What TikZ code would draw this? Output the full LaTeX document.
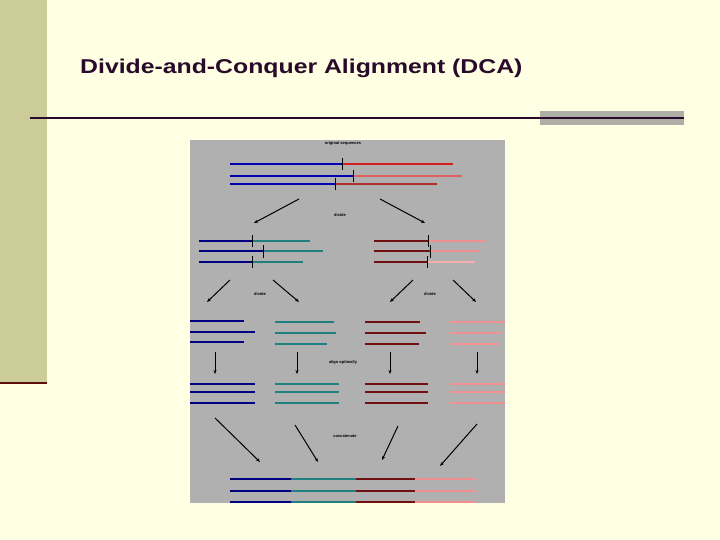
\documentclass[tikz,border=0pt]{standalone}
\usepackage{fontspec}
\setmainfont{Liberation Sans}
\usetikzlibrary{arrows.meta}
\definecolor{bg}{HTML}{FFFFE3}
\definecolor{olive}{HTML}{CCCC99}
\definecolor{panel}{HTML}{B0B0B0}
\definecolor{barc}{HTML}{AEADA6}
\definecolor{dline}{HTML}{2A0A2A}
\definecolor{cb}{HTML}{0000B0}
\definecolor{cdb}{HTML}{000080}
\definecolor{cr}{HTML}{D02020}
\definecolor{cr2}{HTML}{E06060}
\definecolor{cr3}{HTML}{B03030}
\definecolor{ct}{HTML}{208080}
\definecolor{cdr}{HTML}{701010}
\definecolor{cp}{HTML}{F09090}
\tikzset{seq/.style={line width=1.6pt},tk/.style={line width=1pt,black},
 arr/.style={line width=1pt,black,-{Stealth[length=4pt]}},
 lbl/.style={font=\bfseries\fontsize{4}{4}\selectfont,inner sep=0}}
\begin{document}
\begin{tikzpicture}[x=1pt,y=-1pt]
\useasboundingbox (0,0) rectangle (720,540);
\fill[bg] (0,0) rectangle (720,540);
\fill[olive] (0,0) rectangle (47,383);
\draw[line width=2.5pt,cdr!80!black] (0,383) -- (47,383);
\node[anchor=west,inner sep=0,font=\bfseries\fontsize{20}{24}\selectfont,text=dline] (title) at (80,68) {\scalebox{1.24}[1]{Divide-and-Conquer Alignment (DCA)}};
\fill[barc] (540,111) rectangle (684,125);
\draw[line width=1.2pt,dline] (30,118) -- (684,118);
\fill[panel] (190,140) rectangle (505,503);
\node[lbl] (t1) at (343,143) {original sequences};
% top
\draw[seq,cb] (230,164)--(342,164); \draw[seq,cr] (342,164)--(453,164);
\draw[seq,cb] (230,176)--(353,176); \draw[seq,cr2] (353,176)--(462,176);
\draw[seq,cb] (230,184)--(335,184); \draw[seq,cr3] (335,184)--(437,184);
\draw[tk] (342,158)--(342,170) (353,170)--(353,182) (335,178)--(335,190);
\coordinate (a1) at (299,199); \coordinate (a2) at (254,223);
\coordinate (a3) at (380,199); \coordinate (a4) at (425,223);
\draw[arr] (a1)--(a2); \draw[arr] (a3)--(a4);
\node[lbl] (t2) at (340,215) {divide};
% mid
\draw[seq,cdb] (199,241)--(252,241); \draw[seq,ct] (252,241)--(310,241);
\draw[seq,cdb] (199,251)--(263,251); \draw[seq,ct] (263,251)--(323,251);
\draw[seq,cdb] (199,262)--(252,262); \draw[seq,ct] (252,262)--(303,262);
\draw[tk] (252,235)--(252,247) (263,245)--(263,258) (252,256)--(252,268);
\draw[seq,cdr] (374,241)--(428,241); \draw[seq,cp] (428,241)--(485,241);
\draw[seq,cdr] (374,251)--(430,251); \draw[seq,cp] (430,251)--(480,251);
\draw[seq,cdr] (374,262)--(427,262); \draw[seq,cp!70!white] (427,262)--(475,262);
\draw[tk] (428,235)--(428,247) (430,245)--(430,258) (427,256)--(427,268);
\coordinate (b1) at (230,280); \coordinate (b2) at (207,302);
\coordinate (b3) at (273,280); \coordinate (b4) at (299,302);
\coordinate (b5) at (413,280); \coordinate (b6) at (390,302);
\coordinate (b7) at (453,280); \coordinate (b8) at (476,302);
\draw[arr] (b1)--(b2); \draw[arr] (b3)--(b4); \draw[arr] (b5)--(b6); \draw[arr] (b7)--(b8);
\node[lbl] (t3) at (260,294) {divide};
\node[lbl] (t4) at (430,294) {divide};
% row4
\draw[seq,cdb] (190,321)--(244,321) (190,332)--(255,332) (190,342)--(244,342);
\draw[seq,ct] (275,322)--(334,322) (275,333)--(336,333) (275,344)--(327,344);
\draw[seq,cdr] (365,322)--(420,322) (365,333)--(426,333) (365,344)--(419,344);
\draw[seq,cp] (450,322)--(505,322) (450,333)--(501,333) (450,344)--(499,344);
\foreach \x/\n in {215/c1,297/c2,390/c3,477/c4}{
 \coordinate (\n s) at (\x,352); \coordinate (\n e) at (\x,374);
 \draw[arr] (\n s)--(\n e);}
\node[lbl] (t5) at (343,362) {align optimally};
% row5
\draw[seq,cdb] (190,384)--(255,384) (190,392)--(255,392) (190,403)--(255,403);
\draw[seq,ct] (275,384)--(339,384) (275,392)--(339,392) (275,403)--(339,403);
\draw[seq,cdr] (365,384)--(428,384) (365,392)--(428,392) (365,403)--(428,403);
\draw[seq,cp] (450,384)--(505,384) (450,392)--(505,392) (450,403)--(505,403);
\coordinate (d1) at (215,418); \coordinate (d2) at (260,462);
\coordinate (d3) at (295,425); \coordinate (d4) at (318,462);
\coordinate (d5) at (398,426); \coordinate (d6) at (382,460);
\coordinate (d7) at (477,424); \coordinate (d8) at (440,466);
\draw[arr] (d1)--(d2); \draw[arr] (d3)--(d4); \draw[arr] (d5)--(d6); \draw[arr] (d7)--(d8);
\node[lbl] (t6) at (345,436) {concatenate};
% bottom
\foreach \y in {479,491,502}{
 \draw[seq,cdb] (230,\y)--(291,\y); \draw[seq,ct] (291,\y)--(356,\y);
 \draw[seq,cdr] (356,\y)--(415,\y); \draw[seq,cp] (415,\y)--(476,\y);}
\end{tikzpicture}
\end{document}
